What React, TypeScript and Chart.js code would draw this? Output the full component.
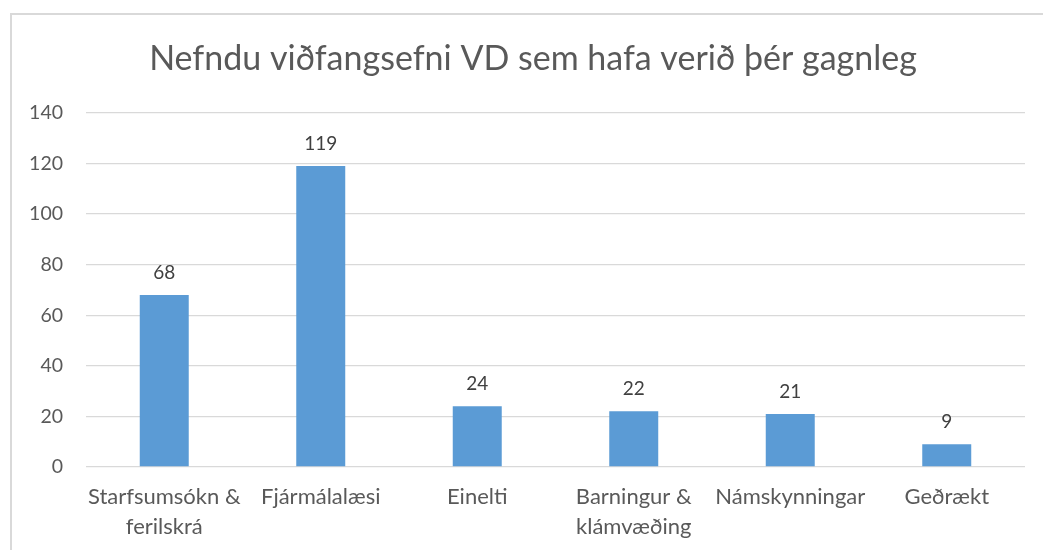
import React, { useEffect, useRef } from "react";
import { Chart, registerables } from "chart.js";

Chart.register(...registerables);

const TITLE = "Nefndu viðfangsefni VD sem hafa verið þér gagnleg";
const CATEGORIES: (string | string[])[] = [
  ["Starfsumsókn &", "ferilskrá"],
  "Fjármálalæsi",
  "Einelti",
  ["Barningur &", "klámvæðing"],
  "Námskynningar",
  "Geðrækt",
];
const VALUES = [68, 119, 24, 22, 21, 9];
const Y_MIN = 0;
const Y_MAX = 140;
const Y_STEP = 20;

const FONT = "Lato, 'Open Sans', sans-serif";

const dataLabels = {
  id: "dataLabels",
  afterDatasetsDraw(chart: any) {
    const ctx = chart.ctx;
    const meta = chart.getDatasetMeta(0);
    ctx.save();
    ctx.font = `19px ${FONT}`;
    ctx.fillStyle = "#404040";
    ctx.textAlign = "center";
    ctx.textBaseline = "alphabetic";
    meta.data.forEach((bar: any, i: number) => {
      ctx.fillText(String(VALUES[i]), bar.x, bar.y - 16);
    });
    ctx.restore();
  },
};

const titlePlugin = {
  id: "customTitle",
  afterDraw(chart: any) {
    const ctx = chart.ctx;
    ctx.save();
    ctx.font = `34px ${FONT}`;
    ctx.fillStyle = "#595959";
    ctx.textAlign = "center";
    ctx.textBaseline = "alphabetic";
    ctx.fillText(TITLE, 521, 55);
    ctx.restore();
  },
};

export default function App() {
  const ref = useRef<HTMLCanvasElement>(null);
  useEffect(() => {
    if (!ref.current) return;
    const chart = new Chart(ref.current, {
      type: "bar",
      data: {
        labels: CATEGORIES,
        datasets: [
          {
            data: VALUES,
            backgroundColor: "#5B9BD5",
            borderWidth: 0,
            barPercentage: 0.313,
            categoryPercentage: 1,
          },
        ],
      },
      plugins: [dataLabels, titlePlugin],
      options: {
        animation: false,
        responsive: false,
        maintainAspectRatio: false,
        layout: { padding: { left: 0, right: 18, top: 98, bottom: 0 } },
        plugins: {
          legend: { display: false },
          tooltip: { enabled: false },
          title: { display: false },
        },
        scales: {
          x: {
            grid: { display: false, drawTicks: false },
            border: { display: false },
            ticks: {
              color: "#595959",
              font: { family: FONT, size: 22, lineHeight: 1.36 },
              padding: 15,
              maxRotation: 0,
              autoSkip: false,
            },
            afterFit(scale: any) {
              scale.height = 83;
            },
          },
          y: {
            min: Y_MIN,
            max: Y_MAX,
            grid: { color: "#D9D9D9", lineWidth: 1.3, drawTicks: false },
            border: { display: false },
            ticks: {
              stepSize: Y_STEP,
              color: "#595959",
              font: { family: FONT, size: 19.5 },
              padding: 23,
            },
            afterFit(scale: any) {
              scale.width = 74;
            },
          },
        },
      },
    });
    return () => chart.destroy();
  }, []);

  return (
    <div
      style={{
        position: "absolute",
        left: 10,
        top: 13,
        width: 1033,
        height: 537,
        boxSizing: "border-box",
        borderLeft: "2px solid #D9D9D9",
        borderTop: "2px solid #D9D9D9",
        background: "#fff",
        overflow: "hidden",
      }}
    >
      <canvas ref={ref} width={1031} height={535} style={{ display: "block" }} />
    </div>
  );
}
